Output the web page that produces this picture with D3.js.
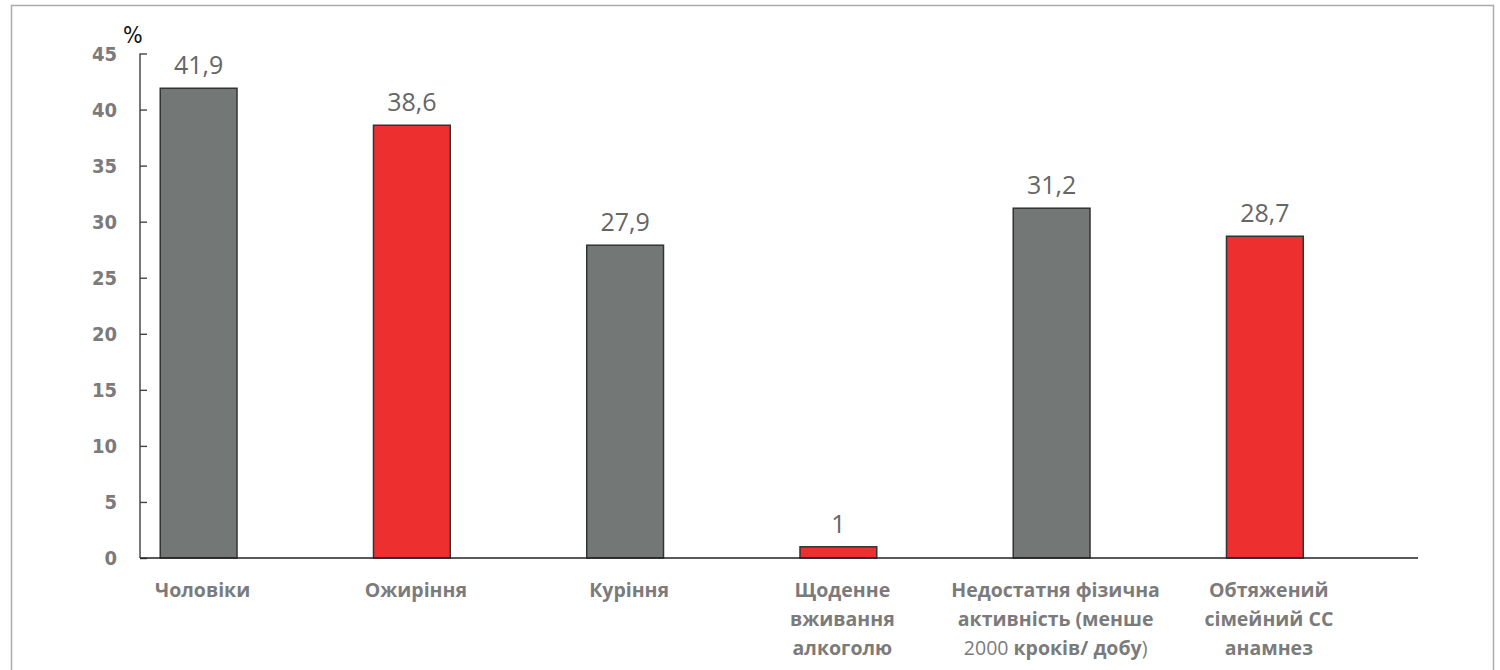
<!DOCTYPE html>
<html>
<head>
<meta charset="utf-8">
<script src="https://cdn.jsdelivr.net/npm/d3@7"></script>
<style>
  html, body { margin: 0; padding: 0; background: #fff; }
  svg { display: block; }
</style>
</head>
<body>
<svg id="chart" width="1500" height="670"></svg>
<script>
const categories = [
  ["Чоловіки"],
  ["Ожиріння"],
  ["Куріння"],
  ["Щоденне", "вживання", "алкоголю"],
  ["Недостатня фізична", "активність (менше", "2000 кроків/ добу)"],
  ["Обтяжений", "сімейний СС", "анамнез"]
];
const values = [41.9, 38.6, 27.9, 1, 31.2, 28.7];
const valueLabels = ["41,9", "38,6", "27,9", "1", "31,2", "28,7"];
const colors = ["#737877", "#ee2f2f", "#737877", "#ee2f2f", "#737877", "#ee2f2f"];
const yTicks = [0, 5, 10, 15, 20, 25, 30, 35, 40, 45];

const svg = d3.select("#chart");

// frame
svg.append("rect")
  .attr("x", 11.5).attr("y", 5.5)
  .attr("width", 1482).attr("height", 700)
  .attr("fill", "none").attr("stroke", "#ababab").attr("stroke-width", 1.5);

const axisX = 140, axisRight = 1418;
const y = d3.scaleLinear().domain([0, 45]).range([558, 53.5]);
const x = d3.scaleBand().domain(d3.range(values.length))
  .range([92, 1371.5]).paddingInner(0.64).paddingOuter(0.32);

// bars
svg.selectAll("rect.bar").data(values).join("rect")
  .attr("class", "bar")
  .attr("x", (d, i) => x(i))
  .attr("y", d => y(d))
  .attr("width", x.bandwidth())
  .attr("height", d => y(0) - y(d))
  .attr("fill", (d, i) => colors[i])
  .attr("stroke", "#333")
  .attr("stroke-width", 1.5);

// value labels
svg.selectAll("text.val").data(values).join("text")
  .attr("class", "val")
  .attr("x", (d, i) => x(i) + x.bandwidth() / 2)
  .attr("y", d => y(d) - 14)
  .attr("text-anchor", "middle")
  .attr("font-family", "'Open Sans', sans-serif")
  .attr("font-size", 25)
  .attr("fill", "#666")
  .text((d, i) => valueLabels[i]);

// y axis
const yAxis = d3.axisRight(y).tickValues(yTicks).tickSize(7).tickFormat("");
const gy = svg.append("g").attr("transform", `translate(${axisX},0)`).call(yAxis);
gy.select(".domain").attr("d", `M0,${y(45)}V${y(0)}`).attr("stroke", "#555").attr("stroke-width", 1.6);
gy.selectAll(".tick line").attr("stroke", "#444").attr("stroke-width", 1.4);

svg.selectAll("text.ytick").data(yTicks).join("text")
  .attr("class", "ytick")
  .attr("x", 117)
  .attr("y", d => y(d))
  .attr("dy", "0.36em")
  .attr("text-anchor", "end")
  .attr("font-family", "'DejaVu Sans Condensed', 'DejaVu Sans', sans-serif")
  .attr("font-weight", "bold")
  .attr("font-size", 20)
  .attr("fill", "#7b7b7b")
  .text(d => d);

svg.append("text")
  .attr("x", 123).attr("y", 43)
  .attr("font-family", "'DejaVu Sans Condensed', 'DejaVu Sans', sans-serif")
  .attr("font-size", 23)
  .attr("fill", "#111")
  .text("%");

// baseline
svg.append("line")
  .attr("x1", axisX).attr("x2", axisRight)
  .attr("y1", y(0)).attr("y2", y(0))
  .attr("stroke", "#222").attr("stroke-width", 1.5);

// category labels
const catG = svg.selectAll("text.cat").data(categories).join("text")
  .attr("class", "cat")
  .attr("text-anchor", "middle")
  .attr("font-family", "'Open Sans', sans-serif")
  .attr("font-weight", "bold")
  .attr("font-size", 19.5)
  .attr("fill", "#7b7b7b");

catG.each(function(lines, i) {
  const t = d3.select(this);
  const cx = x(i) + x.bandwidth() / 2 + 4;
  lines.forEach((ln, j) => {
    const yy = 597 + j * 29;
    if (ln.startsWith("2000")) {
      const ts = t.append("tspan").attr("x", cx).attr("y", yy);
      ts.append("tspan").attr("font-weight", "normal").text("2000 ");
      ts.append("tspan").text(ln.slice(5, -1));
      ts.append("tspan").attr("font-weight", "normal").text(")");
    } else {
      t.append("tspan").attr("x", cx).attr("y", yy).text(ln);
    }
  });
});
</script>
</body>
</html>
